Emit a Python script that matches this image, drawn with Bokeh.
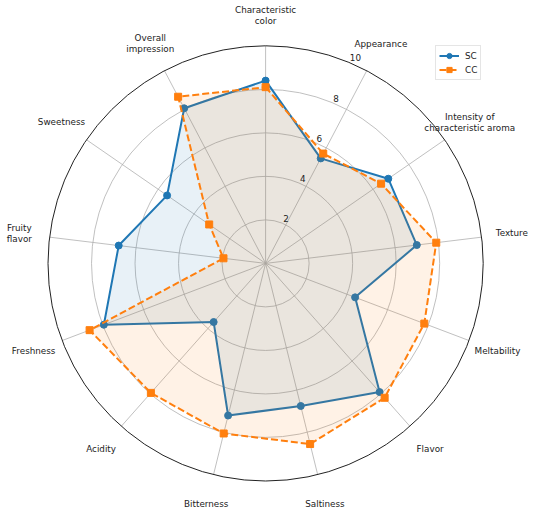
import numpy as np
from bokeh.plotting import figure
from bokeh.models import Range1d, Legend, LegendItem
from bokeh.core.properties import value
from bokeh.embed import file_html
from bokeh.resources import INLINE

categories = ["Characteristic\ncolor", "Appearance", "Intensity of\ncharacteristic aroma",
              "Texture", "Meltability", "Flavor", "Saltiness", "Bitterness", "Acidity",
              "Freshness", "Fruity\nflavor", "Sweetness", "Overall\nimpression"]
sc_values = [8.4, 5.45, 6.85, 7.0, 4.4, 7.9, 6.75, 7.2, 3.6, 7.95, 6.8, 5.5, 8.05]
cc_values = [8.1, 5.7, 6.45, 7.9, 7.8, 8.25, 8.55, 8.05, 7.95, 8.65, 1.95, 3.15, 8.65]
series_names = ["SC", "CC"]
r_ticks = [2, 4, 6, 8, 10]
r_max = 10

FONT = "DejaVu Sans"
SCALE = 21.76          # px per unit
W, H = 534, 512
CX, CY = 265.1, 262.9  # center in px (from top-left)

p = figure(width=W, height=H, output_backend="svg", toolbar_location=None,
           x_axis_location=None, y_axis_location=None, min_border=0,
           x_range=Range1d(-CX / SCALE, (W - CX) / SCALE),
           y_range=Range1d(-(H - CY) / SCALE, CY / SCALE))
p.outline_line_color = None
p.grid.grid_line_color = None
p.background_fill_color = "white"

n = len(categories)
ang = np.pi / 2 - 2 * np.pi * np.arange(n) / n   # clockwise from top


def to_xy(vals):
    v = np.asarray(vals, dtype=float)
    return v * np.cos(ang), v * np.sin(ang)

# grid circles
for t in r_ticks[:-1]:
    p.circle(x=0, y=0, radius=t, fill_color=None, line_color="#b0b0b0", line_width=0.8)
# spokes
p.segment(x0=np.zeros(n), y0=np.zeros(n), x1=r_max * np.cos(ang), y1=r_max * np.sin(ang),
          line_color="#b0b0b0", line_width=0.8)
# outer circle
p.circle(x=0, y=0, radius=r_max, fill_color=None, line_color="#222222", line_width=1)

colors = ["#1f77b4", "#ff7f0e"]
markers = ["circle", "square"]
dashes = ["solid", "7 3"]
items = []
for name, vals, col, mk, dsh in zip(series_names, [sc_values, cc_values], colors, markers, dashes):
    x, y = to_xy(vals)
    xc = np.append(x, x[0])
    yc = np.append(y, y[0])
    p.patch(x=xc, y=yc, fill_color=col, fill_alpha=0.1, line_color=None)
    ln = p.line(x=xc, y=yc, line_color=col, line_width=2, line_dash=dsh)
    sc = p.scatter(x=x, y=y, marker=mk, size=7, fill_color=col, line_color=col)
    items.append(LegendItem(label=name, renderers=[ln, sc]))

# radial tick labels
ta = np.deg2rad(90 - 22.5)
p.text(x=[t * np.cos(ta) for t in r_ticks], y=[t * np.sin(ta) for t in r_ticks],
       text=[str(t) for t in r_ticks], text_font=value(FONT), text_font_size="8.8px",
       text_color="#222222", text_align="left", text_baseline="bottom",
       x_offset=1, y_offset=-1)

# category labels
lr = 11.4
p.text(x=lr * np.cos(ang), y=lr * np.sin(ang), text=categories, text_font=value(FONT),
       text_font_size="8.8px", text_color="#222222", text_align="center",
       text_baseline="middle", text_line_height=1.12)

legend = Legend(items=items, location=(435, 432), margin=0, padding=3, spacing=1,
                label_height=13, glyph_height=13, glyph_width=20, label_standoff=6,
                label_width=12,
                label_text_font=FONT, label_text_font_size="8.8px",
                label_text_color="#222222", border_line_color="#cccccc",
                border_line_width=1, background_fill_alpha=0.8)
p.add_layout(legend)

open("out.html", "w").write(file_html(p, INLINE))
